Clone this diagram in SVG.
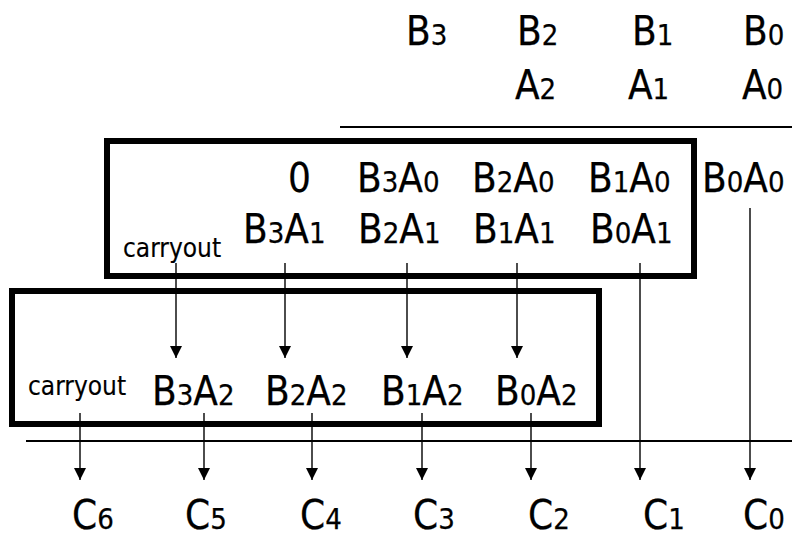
<svg xmlns="http://www.w3.org/2000/svg" width="792" height="537" viewBox="0 0 792 537">
  <style>
    text { font-family: "DejaVu Sans Condensed", "DejaVu Sans", sans-serif; font-stretch: condensed; font-size: 40px; fill: #000; stroke: #000; stroke-width: 0.25; }
    .s { font-size: 29px; }
    .small { font-size: 26px; stroke-width: 0.15; }
    .box { fill: none; stroke: #000; stroke-width: 6; }
    .rule { stroke: #000; stroke-width: 2; }
    .wire { stroke: #000; stroke-width: 1.4; fill: none; }
  </style>
  <defs>
    <marker id="head" viewBox="0 0 12 12" refX="12" refY="6" markerWidth="12" markerHeight="13" markerUnits="userSpaceOnUse" orient="auto">
      <path d="M0,0 L12,6 L0,12 Z" fill="#000"/>
    </marker>
  </defs>
  <rect width="792" height="537" fill="#fff"/>

  <!-- operand B -->
  <g id="operand-b">
    <text x="406" y="45">B<tspan class="s">3</tspan></text>
    <text x="517" y="45">B<tspan class="s">2</tspan></text>
    <text x="632" y="45">B<tspan class="s">1</tspan></text>
    <text x="743" y="45">B<tspan class="s">0</tspan></text>
  </g>
  <!-- operand A -->
  <g id="operand-a">
    <text x="515" y="99">A<tspan class="s">2</tspan></text>
    <text x="628" y="99">A<tspan class="s">1</tspan></text>
    <text x="742" y="99">A<tspan class="s">0</tspan></text>
  </g>

  <!-- horizontal rules -->
  <g id="rules">
    <line class="rule" x1="340" y1="127" x2="792" y2="127"/>
    <line class="rule" x1="26" y1="441" x2="792" y2="441"/>
  </g>

  <!-- first adder row -->
  <g id="adder-1">
    <rect class="box" x="107" y="141" width="587" height="135"/>
    <text x="288" y="192">0</text>
    <text x="357" y="192">B<tspan class="s">3</tspan>A<tspan class="s">0</tspan></text>
    <text x="472" y="192">B<tspan class="s">2</tspan>A<tspan class="s">0</tspan></text>
    <text x="588" y="192">B<tspan class="s">1</tspan>A<tspan class="s">0</tspan></text>
    <text x="243" y="243">B<tspan class="s">3</tspan>A<tspan class="s">1</tspan></text>
    <text x="358" y="243">B<tspan class="s">2</tspan>A<tspan class="s">1</tspan></text>
    <text x="473" y="243">B<tspan class="s">1</tspan>A<tspan class="s">1</tspan></text>
    <text x="590" y="243">B<tspan class="s">0</tspan>A<tspan class="s">1</tspan></text>
    <text class="small" x="123" y="257">carryout</text>
  </g>

  <g id="partial-b0a0">
    <text x="702" y="192">B<tspan class="s">0</tspan>A<tspan class="s">0</tspan></text>
  </g>

  <!-- second adder row -->
  <g id="adder-2">
    <rect class="box" x="12" y="291" width="587" height="133"/>
    <text class="small" x="28" y="395">carryout</text>
    <text x="152" y="405">B<tspan class="s">3</tspan>A<tspan class="s">2</tspan></text>
    <text x="265" y="405">B<tspan class="s">2</tspan>A<tspan class="s">2</tspan></text>
    <text x="381" y="405">B<tspan class="s">1</tspan>A<tspan class="s">2</tspan></text>
    <text x="495" y="405">B<tspan class="s">0</tspan>A<tspan class="s">2</tspan></text>
  </g>

  <!-- product bits -->
  <g id="product">
    <text x="72" y="529">C<tspan class="s">6</tspan></text>
    <text x="185" y="529">C<tspan class="s">5</tspan></text>
    <text x="300" y="529">C<tspan class="s">4</tspan></text>
    <text x="413" y="529">C<tspan class="s">3</tspan></text>
    <text x="528" y="529">C<tspan class="s">2</tspan></text>
    <text x="643" y="529">C<tspan class="s">1</tspan></text>
    <text x="743" y="529">C<tspan class="s">0</tspan></text>
  </g>

  <!-- connectors -->
  <g id="connectors">
    <line class="wire" x1="176" y1="263" x2="176" y2="358" marker-end="url(#head)"/>
    <line class="wire" x1="285" y1="263" x2="285" y2="358" marker-end="url(#head)"/>
    <line class="wire" x1="407" y1="263" x2="407" y2="358" marker-end="url(#head)"/>
    <line class="wire" x1="517" y1="263" x2="517" y2="358" marker-end="url(#head)"/>

    <line class="wire" x1="80" y1="413" x2="80" y2="480" marker-end="url(#head)"/>
    <line class="wire" x1="204" y1="413" x2="204" y2="480" marker-end="url(#head)"/>
    <line class="wire" x1="312" y1="413" x2="312" y2="480" marker-end="url(#head)"/>
    <line class="wire" x1="422" y1="413" x2="422" y2="480" marker-end="url(#head)"/>
    <line class="wire" x1="531" y1="413" x2="531" y2="480" marker-end="url(#head)"/>
    <line class="wire" x1="640" y1="263" x2="640" y2="480" marker-end="url(#head)"/>
    <line class="wire" x1="750" y1="208" x2="750" y2="480" marker-end="url(#head)"/>
  </g>
</svg>
